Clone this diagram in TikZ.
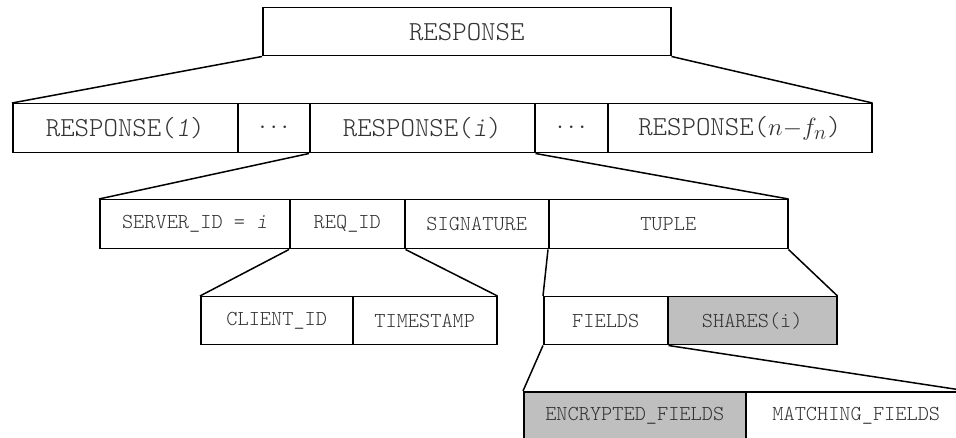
\documentclass[tikz,border=0pt]{standalone}
\usepackage{fontspec}
\setmonofont{Latin Modern Mono Light}
\begin{document}
\begin{tikzpicture}[x=1pt,y=-1pt,
  cellbox/.style={draw, line width=1.5pt, inner sep=0pt, anchor=north west,
    font=\ttfamily\fontsize{21.3}{23}\selectfont, text=black!80},
  bigcell/.style={cellbox, font=\ttfamily\fontsize{27.5}{29}\selectfont},
  shaded/.style={fill=black!25},
  link/.style={line width=1.5pt, line join=round}]
\useasboundingbox (0,0) rectangle (956,438);
\clip (0,0) rectangle (956,438);
% cell: name, left, top, right, bottom, style, text
\newcommand\cellat[7]{%
  \node[#6, minimum width={#4-#2}, minimum height={#5-#3}] (#1) at (#2,#3) {#7};}
% level 0
\cellat{top}{262}{7}{670}{55}{bigcell}{RESPONSE}
% level 1
\cellat{ra}{12}{103}{237}{152}{bigcell}{RESPONSE(\textit{1})}
\cellat{rb}{237}{103}{309}{152}{bigcell}{$\cdots$}
\cellat{rc}{309}{103}{534}{152}{bigcell}{RESPONSE(\textit{i})}
\cellat{rd}{534}{103}{607}{152}{bigcell}{$\cdots$}
\cellat{re}{607}{103}{871}{152}{bigcell}{RESPONSE($n{-}f_n$)}
% level 2
\cellat{sid}{99}{199}{289}{248}{cellbox}{SERVER\_ID = \textit{i}}
\cellat{rid}{289}{199}{404}{248}{cellbox}{REQ\_ID}
\cellat{sig}{404}{199}{548}{248}{cellbox}{SIGNATURE}
\cellat{tup}{548}{199}{787}{248}{cellbox}{TUPLE}
% level 3
\cellat{cid}{200}{296}{352}{344}{cellbox}{CLIENT\_ID}
\cellat{tms}{352}{296}{496}{344}{cellbox}{TIMESTAMP}
\cellat{fld}{543}{296}{667}{344}{cellbox}{FIELDS}
\cellat{shr}{667}{296}{836}{344}{cellbox,shaded}{SHARES(i)}
% level 4
\cellat{enc}{523}{391}{745}{440}{cellbox,shaded}{ENCRYPTED\_FIELDS}
\cellat{mat}{745}{391}{966}{440}{cellbox}{MATCHING\_FIELDS}
% expansion lines
\draw[link] (top.south west) -- (ra.north west);
\draw[link] (top.south east) -- (re.north east);
\draw[link] (rc.south west) -- (sid.north west);
\draw[link] (rc.south east) -- (tup.north east);
\draw[link] (rid.south west) -- (cid.north west);
\draw[link] (rid.south east) -- (tms.north east);
\draw[link] (tup.south west) -- (fld.north west);
\draw[link] (tup.south east) -- (shr.north east);
\draw[link] (fld.south west) -- (enc.north west);
\draw[link] (fld.south east) -- (mat.north east);
\end{tikzpicture}
\end{document}
